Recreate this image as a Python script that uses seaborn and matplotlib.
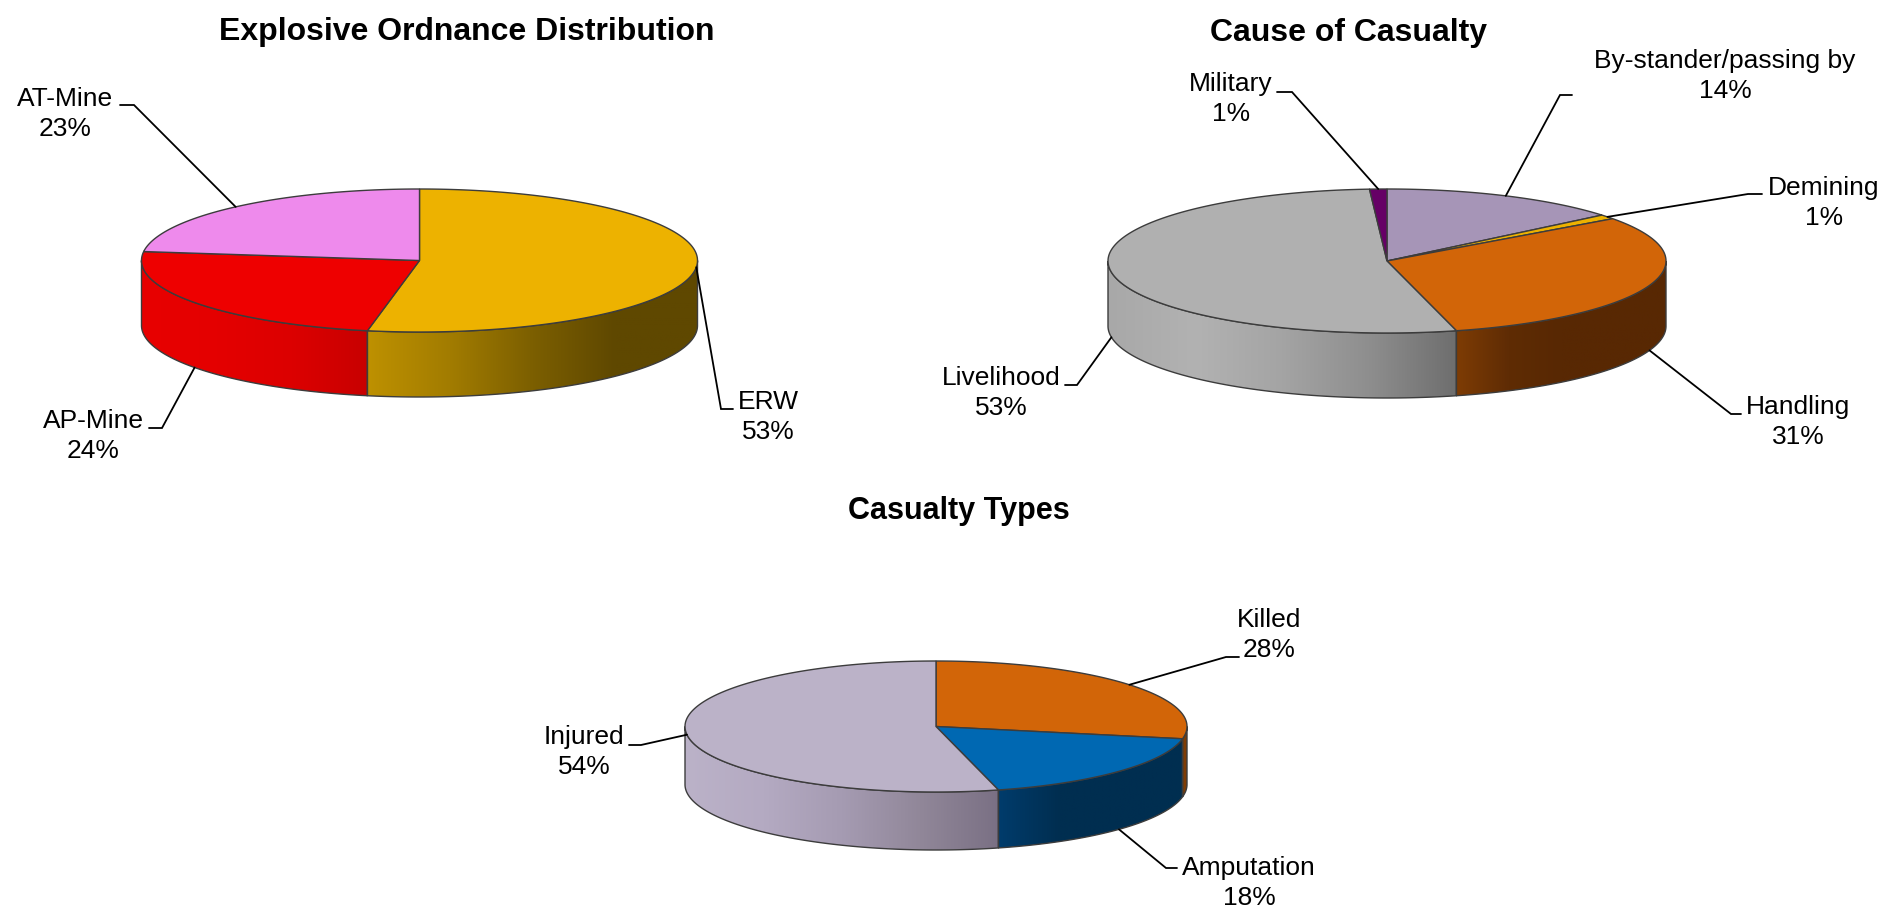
import numpy as np
import seaborn as sns
import matplotlib.pyplot as plt
from matplotlib.patches import Polygon

# data
ordnance_labels = ['ERW', 'AP-Mine', 'AT-Mine']
ordnance_values = [53, 24, 23]
cause_labels = ['By-stander/passing by', 'Demining', 'Handling', 'Livelihood', 'Military']
cause_values = [14, 1, 31, 53, 1]
types_labels = ['Killed', 'Amputation', 'Injured']
types_values = [28, 18, 54]

# pie layout, in pixels of the 1893x908 canvas
PIES = [
    dict(title='Explosive Ordnance Distribution', title_xy=(467, 32), title_size=23,
         labels=ordnance_labels, values=ordnance_values,
         cx=419.5, cy=260.5, rx=278, ry=71.5, depth=65,
         top=['#EDB200', '#EE0000', '#EE8AEC'],
         side=[['#BE9100', '#A27C00', '#7C5F00', '#5F4800', '#5F4800'],
               ['#E80000', '#E40000', '#DC0000', '#C80000'],
               ['#EE8AEC', '#EE8AEC']],
         # text centre, elbow, end of the leader, leader starts on lower rim
         notes=[((768, 417), (721, 409), (733, 409), False),
                ((93, 436), (162, 428), (149, 428), True),
                ((65, 114), (134, 105), (120, 105), False)]),
    dict(title='Cause of Casualty', title_xy=(1348, 33), title_size=23,
         labels=cause_labels, values=cause_values,
         cx=1387, cy=261, rx=279, ry=72, depth=65,
         top=['#A695B7', '#EDB200', '#D26508', '#B0B0B0', '#660066'],
         side=[['#A695B7', '#A695B7'], ['#EDB200', '#EDB200'],
               ['#7E3C05', '#5F2C04', '#582803', '#582803', '#582803'],
               ['#A8A8A8', '#B2B2B2', '#A4A4A4', '#8E8E8E', '#6E6E6E'],
               ['#660066', '#660066']],
         notes=[((1725, 76), (1560, 95), (1572, 95), False),
                ((1824, 203), (1748, 194), (1762, 194), False),
                ((1798, 422), (1731, 414), (1741, 414), True),
                ((1001, 393), (1077, 385), (1065, 385), True),
                ((1231, 99), (1292, 92), (1277, 92), False)]),
    dict(title='Casualty Types', title_xy=(959, 511), title_size=22,
         labels=types_labels, values=types_values,
         cx=936, cy=726.5, rx=251, ry=65.5, depth=58,
         top=['#D26508', '#0068B2', '#BBB2C8'],
         side=[['#7E3C05', '#7E3C05'],
               ['#003C6C', '#002E50', '#002E50', '#002E50'],
               ['#BBB2C8', '#B4AAC2', '#A59BB2', '#918799', '#7A7084']],
         notes=[((1269, 635), (1226, 657), (1239, 657), False),
                ((1249, 883), (1166, 868), (1177, 868), True),
                ((584, 752), (641, 745), (629, 745), False)]),
]

EDGE = '#3C3C3C'


def rim(pie, frac):
    # clockwise from 12 o'clock
    theta = 2 * np.pi * np.asarray(frac)
    x = pie['cx'] + pie['rx'] * np.sin(theta)
    y = pie['cy'] - pie['ry'] * np.cos(theta)
    return x, y


def draw_side(ax, pie, start, end, colors):
    # only the front half of the rim (cos < 0) shows a wall
    lo, hi = max(start, 0.25), min(end, 0.75)
    if hi <= lo:
        return
    x, y = rim(pie, np.linspace(lo, hi, 120))
    xs = np.r_[x, x[::-1]]
    ys = np.r_[y, y[::-1] + pie['depth']]
    cmap = sns.blend_palette(colors, n_colors=256, as_cmap=True)
    img = ax.imshow(np.linspace(0, 1, 256)[None, :], cmap=cmap, aspect='auto', zorder=2,
                    extent=(x.min(), x.max(), ys.max(), ys.min()), interpolation='bilinear')
    outline = Polygon(np.c_[xs, ys], closed=True, fc='none', ec=EDGE, lw=1, zorder=3)
    ax.add_patch(outline)
    img.set_clip_path(outline)


def draw_pie(ax, pie):
    fracs = np.array(pie['values']) / sum(pie['values'])
    ends = np.cumsum(fracs)
    starts = ends - fracs
    for s, e, colors in zip(starts, ends, pie['side']):
        draw_side(ax, pie, s, e, colors)
    for s, e, color in zip(starts, ends, pie['top']):
        x, y = rim(pie, np.linspace(s, e, 200))
        ax.fill(np.r_[pie['cx'], x], np.r_[pie['cy'], y], fc=color, ec=EDGE, lw=1, zorder=4)

    for s, e, label, value, note in zip(starts, ends, pie['labels'], pie['values'], pie['notes']):
        text_xy, elbow, tail, lower = note
        x, y = rim(pie, (s + e) / 2)
        if lower:
            y = y + pie['depth']
        ax.plot([x, elbow[0], tail[0]], [y, elbow[1], tail[1]], color='black', lw=1.3, zorder=5,
                solid_joinstyle='miter')
        ax.text(text_xy[0], text_xy[1], f'{label}\n{value}%', ha='center', va='center',
                fontsize=19, linespacing=1.36, color='black', zorder=6)
    ax.text(pie['title_xy'][0], pie['title_xy'][1], pie['title'], ha='center', va='center',
            fontsize=pie['title_size'], fontweight='bold', color='black')


def main():
    sns.set_theme(style='white')
    plt.rcParams['font.family'] = ['Liberation Sans', 'DejaVu Sans']
    fig = plt.figure(figsize=(18.93, 9.08), dpi=100)
    ax = fig.add_axes([0, 0, 1, 1])
    for pie in PIES:
        draw_pie(ax, pie)
    ax.set_xlim(0, 1893)
    ax.set_ylim(908, 0)
    ax.axis('off')
    fig.savefig('out.png', dpi=100)


if __name__ == '__main__':
    main()
